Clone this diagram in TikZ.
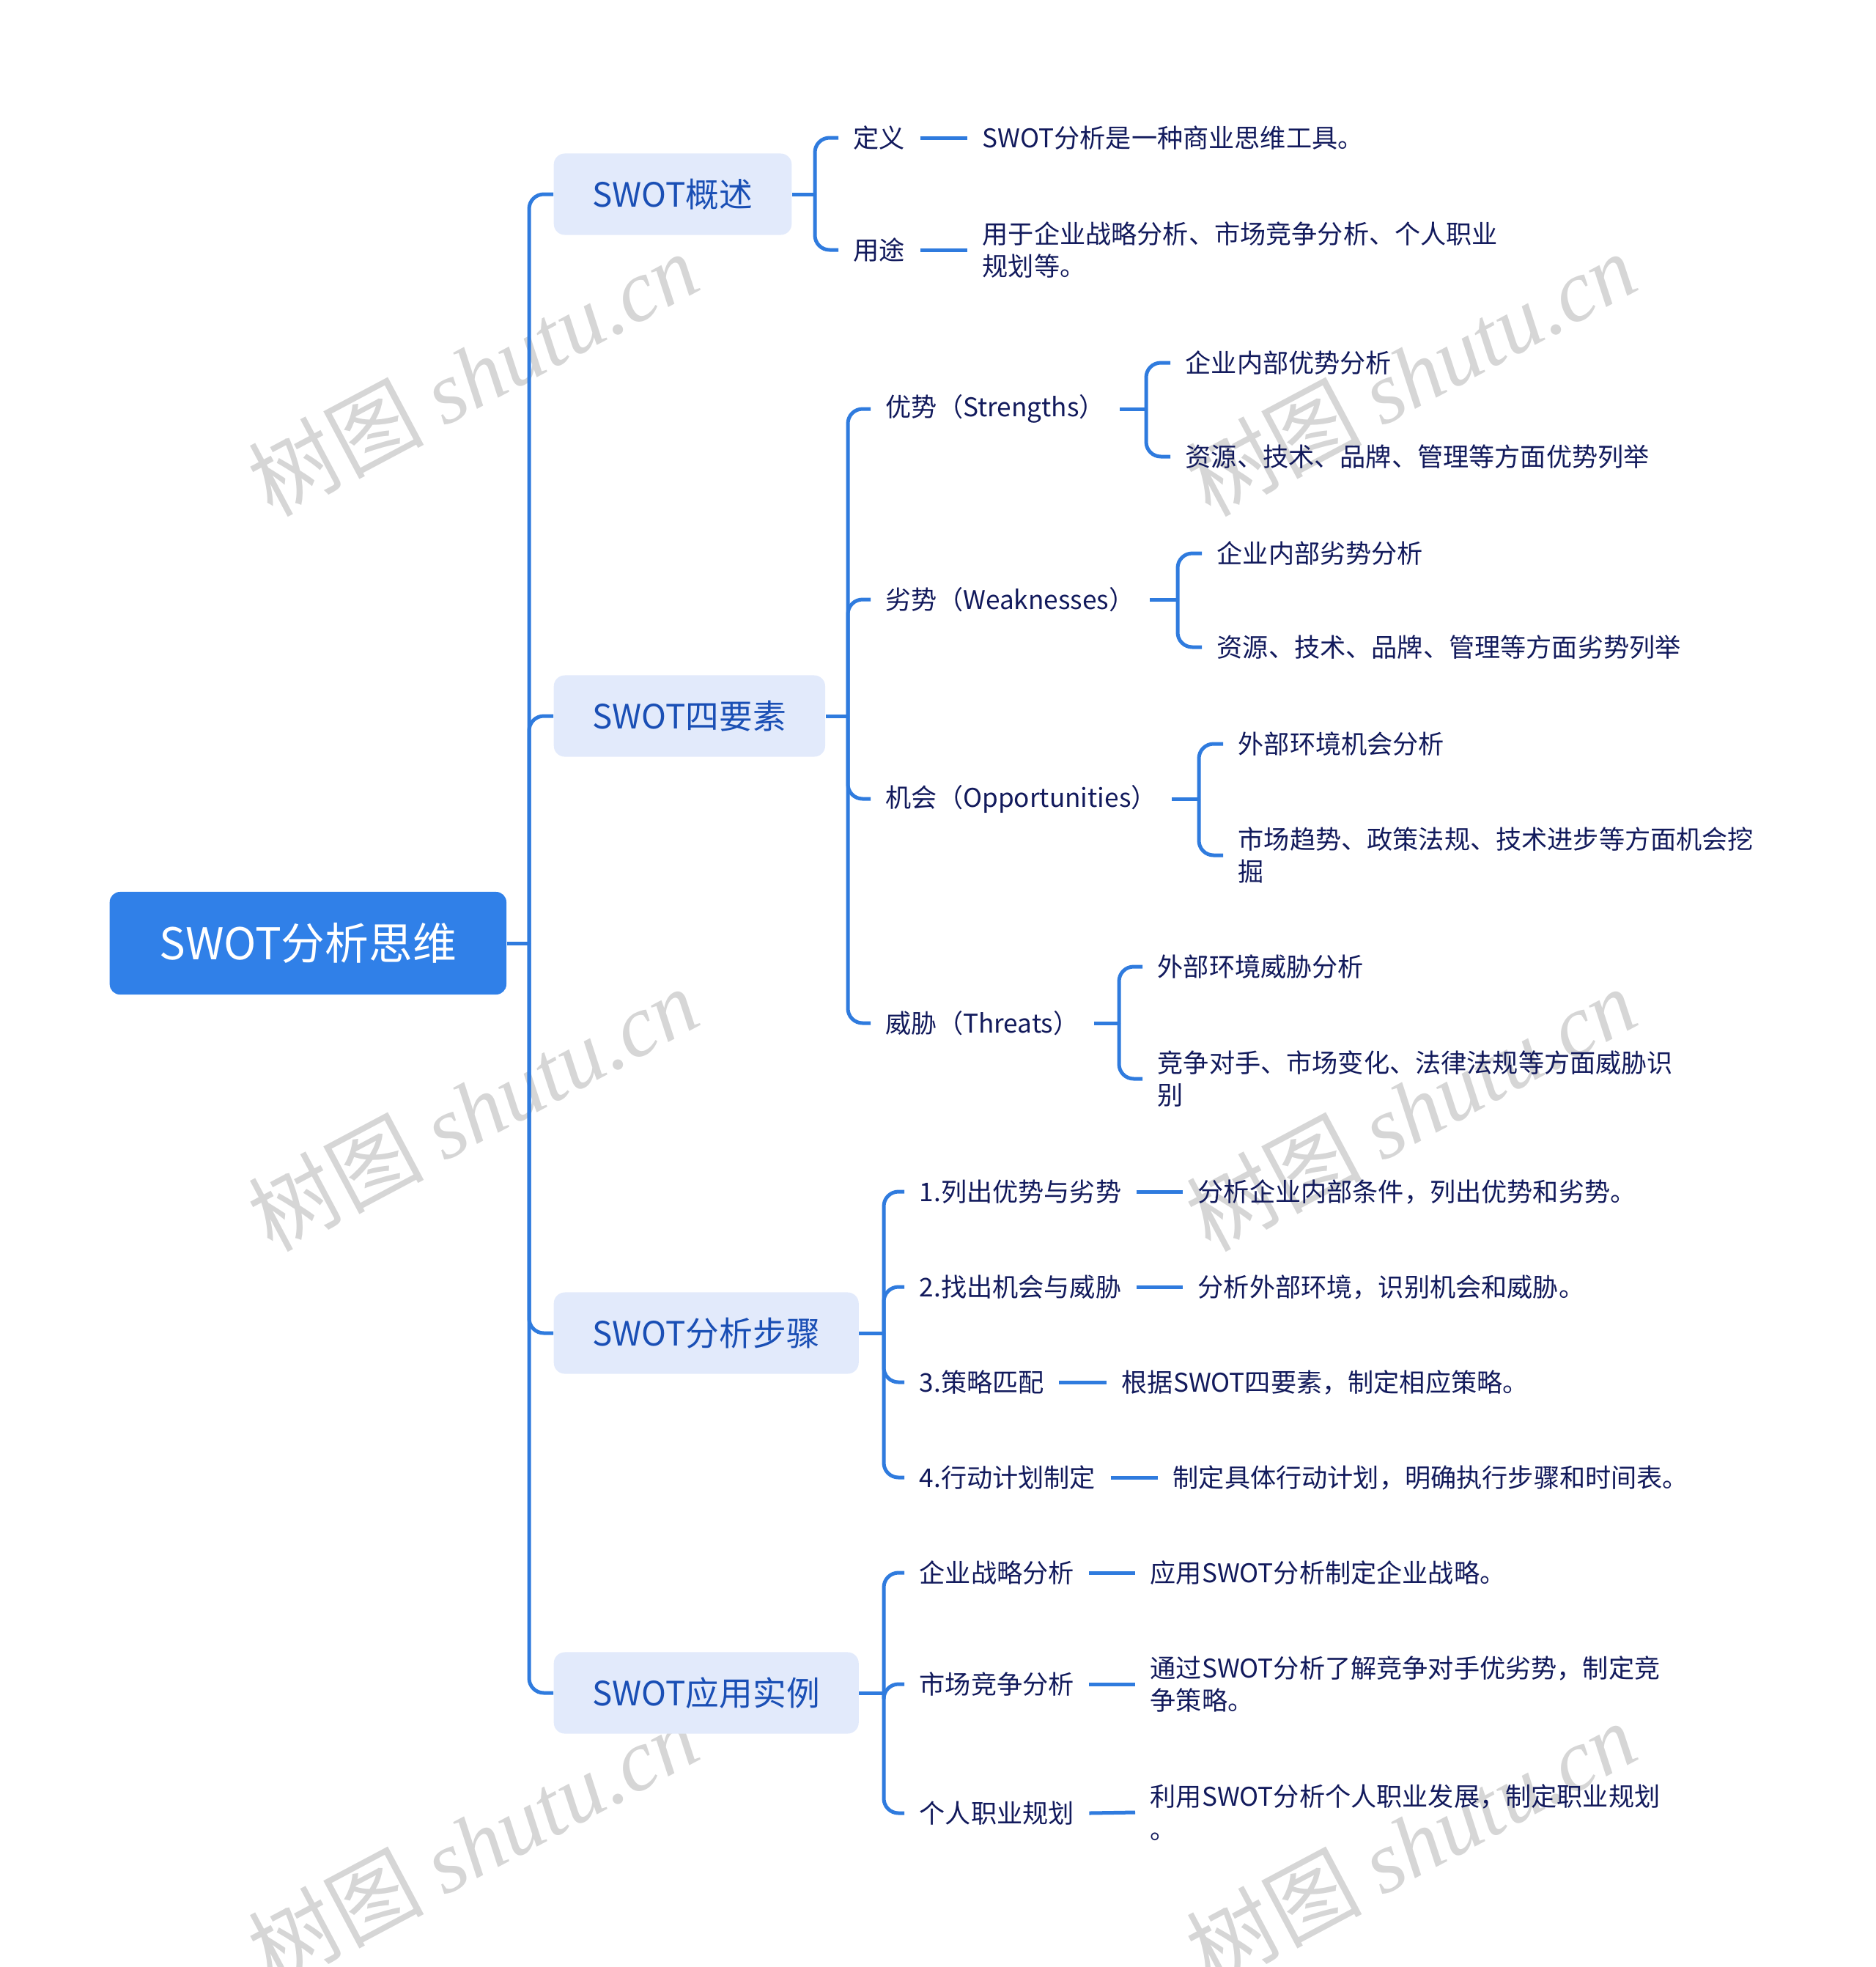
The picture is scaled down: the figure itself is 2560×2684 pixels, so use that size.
\documentclass[tikz,border=0pt]{standalone}
\usepackage{fontspec}
\setmainfont{Noto Sans CJK SC}
\newfontfamily\wmfont{Liberation Serif}
\usetikzlibrary{positioning}

\definecolor{rootblue}{HTML}{3080E8}
\definecolor{linec}{HTML}{2F7BDE}
\definecolor{topicfill}{HTML}{E2EAFB}
\definecolor{topictext}{HTML}{1A4FB5}
\definecolor{itemtext}{HTML}{121A5C}
\definecolor{wmgray}{HTML}{D6D6D6}

\begin{document}
\begin{tikzpicture}[x=0.01cm, y=-0.01cm,
  line/.style={draw=linec, line width=0.05cm},
  branch/.style={line, rounded corners=0.2cm},
  rootbox/.style={anchor=west, fill=rootblue, text=white, rounded corners=0.14cm,
    minimum width=5.41cm, minimum height=1.4cm, font=\fontsize{17}{20}\selectfont},
  topic/.style={anchor=west, fill=topicfill, text=topictext, rounded corners=0.15cm,
    minimum height=1.11cm, inner xsep=0.53cm, font=\fontsize{13}{16}\selectfont},
  item/.style={anchor=west, inner xsep=0.2cm, inner ysep=0.05cm, text=itemtext,
    align=left, font=\fontsize{10}{12.7}\selectfont},
  wmark/.style={text=wmgray, rotate=28, font=\fontsize{34}{34}\selectfont}]
\useasboundingbox (0,0) rectangle (2560,2684);

\foreach \wx in {645,1925}
  \foreach \wy in {510,1513,2515}
    \node[wmark] (wm-\wx-\wy) at (\wx,\wy) {树图 {\wmfont\itshape shutu.cn}};

\node[rootbox] (root) at (149,1287) {SWOT分析思维};

\node[topic] (ov) at (755,265) {SWOT概述};
\node[topic] (four) at (755,977) {SWOT四要素};
\node[topic] (steps) at (755,1819) {SWOT分析步骤};
\node[topic] (app) at (755,2310) {SWOT应用实例};

\node[item] (def) at (1144,188) {定义};
\node[item] (use) at (1144,341) {用途};
\node[item] (defd) at (1320,188) {SWOT分析是一种商业思维工具。};
\node[item] (used) at (1320,341) {用于企业战略分析、市场竞争分析、个人职业\\规划等。};

\node[item] (str) at (1188,558) {优势（Strengths）};
\node[item] (weak) at (1188,818) {劣势（Weaknesses）};
\node[item] (opp) at (1188,1090) {机会（Opportunities）};
\node[item] (thr) at (1188,1396) {威胁（Threats）};

\node[item] (str1) at (1597,495) {企业内部优势分析};
\node[item] (str2) at (1597,623) {资源、技术、品牌、管理等方面优势列举};
\node[item] (weak1) at (1640,755) {企业内部劣势分析};
\node[item] (weak2) at (1640,883) {资源、技术、品牌、管理等方面劣势列举};
\node[item] (opp1) at (1669,1015) {外部环境机会分析};
\node[item] (opp2) at (1669,1167) {市场趋势、政策法规、技术进步等方面机会挖\\掘};
\node[item] (thr1) at (1559,1319) {外部环境威胁分析};
\node[item] (thr2) at (1559,1472) {竞争对手、市场变化、法律法规等方面威胁识\\别};

\node[item] (st1) at (1234,1626) {1.列出优势与劣势};
\node[item] (st2) at (1234,1756) {2.找出机会与威胁};
\node[item] (st3) at (1234,1886) {3.策略匹配};
\node[item] (st4) at (1234,2016) {4.行动计划制定};
\node[item] (st1d) at (1614,1626) {分析企业内部条件，列出优势和劣势。};
\node[item] (st2d) at (1614,1756) {分析外部环境，识别机会和威胁。};
\node[item] (st3d) at (1510,1886) {根据SWOT四要素，制定相应策略。};
\node[item] (st4d) at (1580,2016) {制定具体行动计划，明确执行步骤和时间表。};

\node[item] (ap1) at (1234,2146) {企业战略分析};
\node[item] (ap2) at (1234,2298) {市场竞争分析};
\node[item] (ap3) at (1234,2474) {个人职业规划};
\node[item] (ap1d) at (1549,2146) {应用SWOT分析制定企业战略。};
\node[item] (ap2d) at (1549,2298) {通过SWOT分析了解竞争对手优劣势，制定竞\\争策略。};
\node[item] (ap3d) at (1549,2473) {利用SWOT分析个人职业发展，制定职业规划\\。};

\coordinate (rootj) at (722,1287);
\coordinate (ovj) at (1112,265);
\coordinate (fourj) at (1157,977);
\coordinate (stepsj) at (1206,1819);
\coordinate (appj) at (1206,2310);
\coordinate (strj) at (1564,558);
\coordinate (weakj) at (1607,818);
\coordinate (oppj) at (1636,1090);
\coordinate (thrj) at (1527,1396);

\draw[line] (root.east) -- (rootj);
\foreach \t in {ov,four,steps,app}
  \draw[branch] (rootj) |- (\t.west);

\draw[line] (ov.east) -- (ovj);
\foreach \c in {def,use}
  \draw[branch] (ovj) |- (\c.west);
\draw[line] (def.east) -- (defd.west);
\draw[line] (use.east) -- (used.west);

\draw[line] (four.east) -- (fourj);
\foreach \c in {str,weak,opp,thr} {
  \draw[branch] (fourj) |- (\c.west);
  \draw[line] (\c.east) -- (\c j);
  \draw[branch] (\c j) |- (\c 1.west);
  \draw[branch] (\c j) |- (\c 2.west);
}

\draw[line] (steps.east) -- (stepsj);
\foreach \c in {st1,st2,st3,st4} {
  \draw[branch] (stepsj) |- (\c.west);
  \draw[line] (\c.east) -- (\c d.west);
}

\draw[line] (app.east) -- (appj);
\foreach \c in {ap1,ap2,ap3} {
  \draw[branch] (appj) |- (\c.west);
  \draw[line] (\c.east) -- (\c d.west);
}
\end{tikzpicture}
\end{document}
